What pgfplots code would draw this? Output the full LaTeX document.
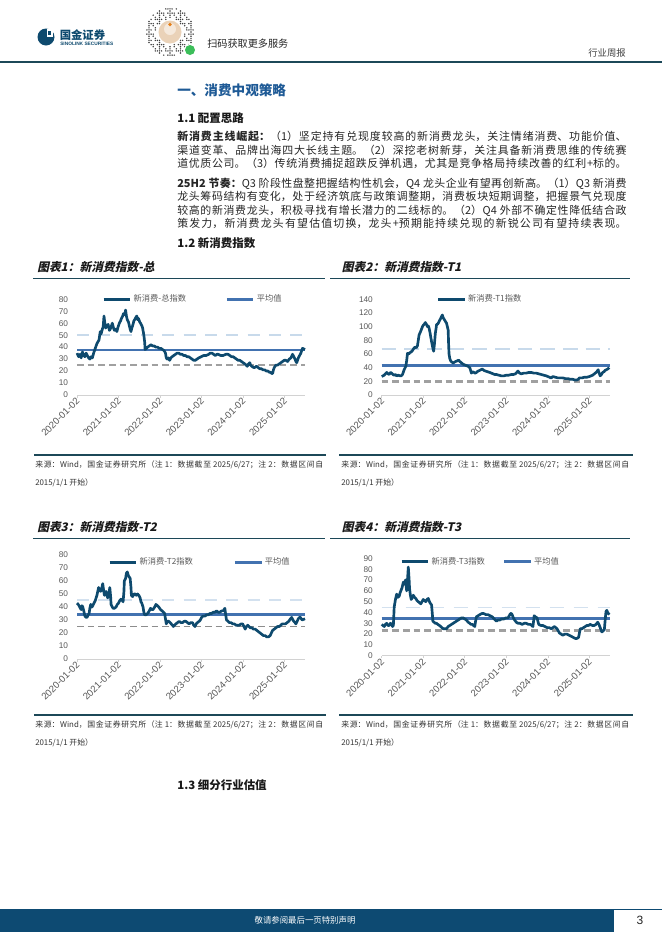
\documentclass[border=0pt]{standalone}
\usepackage{fontspec}
\setmainfont{Liberation Sans}
\newfontfamily\cjk{Noto Sans CJK SC}
\newfontfamily\cjksl[FakeSlant=0.22]{Noto Sans CJK SC}
\usepackage{pgfplots}
\pgfplotsset{compat=1.18}
\XeTeXlinebreaklocale "zh"
\XeTeXlinebreakskip=0pt plus 1.2pt

\definecolor{datacol}{RGB}{14,74,110}
\definecolor{meancol}{RGB}{66,114,176}
\definecolor{updash}{RGB}{200,218,235}
\definecolor{lowdash}{RGB}{160,160,160}
\definecolor{axisgray}{RGB}{210,210,210}
\definecolor{tickgray}{RGB}{89,89,89}
\definecolor{headline}{RGB}{28,72,88}
\definecolor{titleblue}{RGB}{30,90,150}
\definecolor{footblue}{RGB}{13,74,114}
\definecolor{beige}{RGB}{234,210,184}
\definecolor{wxgreen}{RGB}{60,190,90}

\pgfplotsset{
  ncstyle/.style={
    scale only axis, width=171pt,
    xmin=2020, xmax=2025.49, ymin=0,
    axis x line*=bottom, axis y line*=left,
    y axis line style={draw=none},
    x axis line style={draw=axisgray, line width=0.6pt},
    ytick style={draw=none},
    xtick={2020,2021,2022,2023,2024,2025},
    xticklabels={2020-01-02,2021-01-02,2022-01-02,2023-01-02,2024-01-02,2025-01-02},
    xtick style={draw=axisgray, line width=0.5pt},
    tick align=outside, major tick length=2pt,
    ticklabel style={font=\fontsize{6.2}{7}\selectfont, text=tickgray},
    xticklabel style={rotate=45, anchor=east, inner sep=0.5pt, yshift=-1.5pt,
      font=\fontsize{7.2}{8}\selectfont},
    yticklabel style={inner sep=0pt, xshift=-4.5pt},
    /pgf/number format/assume math mode=true,
    legend style={draw=none, fill=none, anchor=west,
      font=\cjk\fontsize{6.2}{7}\selectfont, text=tickgray,
      inner sep=0pt, nodes={inner sep=1.5pt}},
    legend columns=2,
    legend image code/.code={\draw[##1] (0pt,0pt) -- (20pt,0pt);},
    clip=false,
  }
}

\begin{document}
\begin{tikzpicture}
\begin{scope}[x=0.75pt,y=-0.75pt]
\fill[white] (0,0) rectangle (662,936);
\useasboundingbox (0,0) rectangle (662,936);

% header
\fill[datacol] (46,37) circle (8.5);
\fill[white] (46.5,29) rectangle (52.5,36.5);
\fill[datacol] (48,31) rectangle (51,34.5);
\node[anchor=west, inner sep=0pt, text=datacol, font=\cjk\bfseries\fontsize{8.5}{9}\selectfont] at (59.5,35) {国金证券};
\node[anchor=west, inner sep=0pt, text=datacol, font=\bfseries\fontsize{3.6}{4}\selectfont] at (60,43.5) {SINOLINK SECURITIES};
\foreach \i in {-12,...,12}{\foreach \j in {-12,...,12}{
  \pgfmathtruncatemacro\keep{((\i*\i+\j*\j)<=132)&&((\i*\i+\j*\j)>=38)&&(mod(\i*\i*3+\j*5+\i*\j*7+3000,5)<2)}
  \ifnum\keep=1 \fill[black!75] (170+\i*2.1,32+\j*2.1) circle (0.8);\fi}}
\fill[beige] (170,32) circle (11.5);
\fill[beige!50] (170,29) circle (6);
\fill[orange!60!brown] (170,24.5) circle (1.8);
\fill[white] (190,50) circle (6);
\fill[wxgreen] (190,50) circle (5);
\node[anchor=west, inner sep=0pt, font=\cjk\fontsize{7.6}{8}\selectfont, text=black!85] at (207,44) {扫码获取更多服务};
\node[anchor=east, inner sep=0pt, font=\cjk\fontsize{7}{8}\selectfont, text=black!75] at (626,53) {行业周报};
\draw[headline, line width=1.2pt] (0,62) -- (662,62);

% text
\node[anchor=west, inner sep=0pt, text=titleblue, font=\cjk\bfseries\fontsize{10.2}{12}\selectfont] at (177,90) {一、消费中观策略};
\node[anchor=west, inner sep=0pt, text=black!90, font=\cjk\bfseries\fontsize{8.6}{10}\selectfont] at (177,117.7) {1.1 配置思路};
\node[anchor=north west, inner sep=0pt, text width=337pt, align=justify, text=black!85, font=\cjk\fontsize{8.2}{10}\selectfont] at (177,131.3)
{{\bfseries 新消费主线崛起：}（1）坚定持有兑现度较高的新消费龙头，关注情绪消费、功能价值、\linebreak
渠道变革、品牌出海四大长线主题。（2）深挖老树新芽，关注具备新消费思维的传统赛\linebreak
道优质公司。（3）传统消费捕捉超跌反弹机遇，尤其是竞争格局持续改善的红利+标的。\linebreak};
\node[anchor=north west, inner sep=0pt, text width=337pt, align=justify, text=black!85, font=\cjk\fontsize{8.2}{10}\selectfont] at (177,177.9)
{{\bfseries 25H2 节奏：}Q3 阶段性盘整把握结构性机会，Q4 龙头企业有望再创新高。（1）Q3 新消费\linebreak
龙头筹码结构有变化，处于经济筑底与政策调整期，消费板块短期调整，把握景气兑现度\linebreak
较高的新消费龙头，积极寻找有增长潜力的二线标的。（2）Q4 外部不确定性降低结合政\linebreak
策发力，新消费龙头有望估值切换，龙头+预期能持续兑现的新锐公司有望持续表现。\linebreak};
\node[anchor=west, inner sep=0pt, text=black!90, font=\cjk\bfseries\fontsize{8.6}{10}\selectfont] at (177,243.3) {1.2 新消费指数};
\node[anchor=west, inner sep=0pt, text=black!90, font=\cjk\bfseries\fontsize{8.6}{10}\selectfont] at (177,785) {1.3 细分行业估值};

% chart titles and rules
\node[anchor=west, inner sep=0pt, text=black!90, font=\cjksl\bfseries\fontsize{8.8}{10}\selectfont] at (37,267) {图表1：新消费指数-总};
\node[anchor=west, inner sep=0pt, text=black!90, font=\cjksl\bfseries\fontsize{8.8}{10}\selectfont] at (341.7,267) {图表2：新消费指数-T1};
\node[anchor=west, inner sep=0pt, text=black!90, font=\cjksl\bfseries\fontsize{8.8}{10}\selectfont] at (37,527.3) {图表3：新消费指数-T2};
\node[anchor=west, inner sep=0pt, text=black!90, font=\cjksl\bfseries\fontsize{8.8}{10}\selectfont] at (341.7,527.3) {图表4：新消费指数-T3};
\draw[headline, line width=1pt] (33,278.5) -- (325,278.5);
\draw[headline, line width=1pt] (330,278.5) -- (630,278.5);
\draw[headline, line width=1pt] (33,538.3) -- (325,538.3);
\draw[headline, line width=1pt] (330,538.3) -- (630,538.3);
\draw[headline, line width=1pt] (34,455) -- (326,455);
\draw[headline, line width=1pt] (339,455) -- (633,455);
\draw[headline, line width=1pt] (34,715) -- (326,715);
\draw[headline, line width=1pt] (339,715) -- (633,715);

% sources
\foreach \xx/\yy in {35/460, 341/460, 35/720, 341/720}{
\node[anchor=north west, inner sep=0pt, text width=216pt, align=justify, text=black!80, font=\cjk\fontsize{5.9}{13.5}\selectfont] at (\xx,\yy)
{来源：Wind，国金证券研究所（注 1：数据截至 2025/6/27；注 2：数据区间自\linebreak 2015/1/1 开始）};
}

% footer
\fill[footblue] (0,909) rectangle (614,932);
\draw[footblue, line width=0.8pt] (614,909.4) -- (662,909.4);
\node[inner sep=0pt, text=white, font=\cjk\fontsize{6.3}{7}\selectfont] at (305,920.5) {敬请参阅最后一页特别声明};
\node[inner sep=0pt, text=black!85, font=\fontsize{9}{10}\selectfont] at (640,920) {3};
\end{scope}

% ---------- chart 1 ----------
\begin{axis}[ncstyle, at={(57.75pt,-296.25pt)}, anchor=south west, height=71.8pt,
  ymax=80, ytick={0,10,...,80},
  legend style={at={(0.11,1)}, /tikz/every even column/.append style={column sep=28pt}}]
\addplot[updash, line width=1.8pt, dash pattern=on 9pt off 7pt, forget plot] coordinates {(2020,50) (2025.49,50)};
\addplot[lowdash, line width=2pt, dash pattern=on 5pt off 3pt, forget plot] coordinates {(2020,25) (2025.49,25)};
\addplot[meancol, line width=2pt, forget plot] coordinates {(2020,37.5) (2025.49,37.5)};
\addplot[datacol, line width=2pt, line join=round] coordinates {
(2020.00,35) (2020.04,32) (2020.07,34) (2020.10,31) (2020.13,36) (2020.16,33) (2020.19,32) (2020.22,35)
(2020.25,33) (2020.28,31) (2020.31,30) (2020.34,32) (2020.37,31) (2020.40,35) (2020.43,38) (2020.46,41)
(2020.48,43) (2020.53,46) (2020.56,53) (2020.58,51) (2020.61,55) (2020.63,57) (2020.65,66) (2020.67,60)
(2020.69,56) (2020.72,58) (2020.75,59) (2020.78,54) (2020.80,55) (2020.83,58) (2020.85,60) (2020.88,56)
(2020.90,54) (2020.93,55) (2020.96,53) (2020.99,57) (2021.02,60) (2021.05,62) (2021.07,64) (2021.10,66)
(2021.12,68) (2021.15,67) (2021.17,71) (2021.19,66) (2021.21,63) (2021.24,61) (2021.26,58) (2021.28,55)
(2021.30,53) (2021.32,56) (2021.34,58) (2021.37,62) (2021.39,63) (2021.42,65) (2021.44,66) (2021.46,63)
(2021.48,64) (2021.51,61) (2021.53,60) (2021.56,58) (2021.58,56) (2021.60,52) (2021.61,50) (2021.63,44)
(2021.64,38) (2021.67,39) (2021.70,40) (2021.74,41) (2021.78,42) (2021.82,41) (2021.86,41) (2021.90,40)
(2021.94,40) (2021.98,39) (2022.02,39) (2022.06,38) (2022.10,37) (2022.13,35) (2022.15,31) (2022.17,30)
(2022.20,31) (2022.23,29) (2022.26,31) (2022.29,32) (2022.33,33) (2022.37,34) (2022.41,35) (2022.45,35)
(2022.49,34) (2022.53,34) (2022.57,33) (2022.61,33) (2022.65,32) (2022.69,32) (2022.73,31) (2022.77,30)
(2022.81,29) (2022.85,29) (2022.89,30) (2022.93,31) (2022.99,32) (2023.05,33) (2023.11,33) (2023.17,34)
(2023.21,35) (2023.25,35) (2023.29,34) (2023.33,33) (2023.37,34) (2023.40,34) (2023.46,33) (2023.52,33)
(2023.58,34) (2023.64,34) (2023.68,33) (2023.72,32) (2023.76,32) (2023.80,31) (2023.84,30) (2023.88,29)
(2023.92,29) (2023.96,28) (2024.00,27) (2024.04,26) (2024.07,25) (2024.10,24) (2024.13,26) (2024.16,27)
(2024.18,25) (2024.21,24) (2024.25,23) (2024.28,23) (2024.32,24) (2024.36,23) (2024.40,22) (2024.44,22)
(2024.48,21) (2024.52,21) (2024.56,20) (2024.60,20) (2024.63,19) (2024.66,19) (2024.69,18) (2024.71,18)
(2024.73,21) (2024.75,23) (2024.79,25) (2024.83,25) (2024.87,26) (2024.91,27) (2024.95,28) (2024.99,29)
(2025.03,29) (2025.07,28) (2025.11,30) (2025.15,31) (2025.19,34) (2025.22,32) (2025.25,30) (2025.27,28)
(2025.29,27) (2025.31,29) (2025.33,31) (2025.36,33) (2025.39,35) (2025.41,37) (2025.43,39) (2025.49,38)
};
\addlegendentry{新消费-总指数}
\addlegendimage{meancol, line width=2pt}
\addlegendentry{平均值}
\end{axis}

% ---------- chart 2 ----------
\begin{axis}[ncstyle, at={(286.3pt,-296.25pt)}, anchor=south west, height=71.8pt,
  ymax=140, ytick={0,20,...,140},
  legend style={at={(0.24,1)}}]
\addplot[updash, line width=1.8pt, dash pattern=on 11pt off 6pt, forget plot] coordinates {(2020,67) (2025.49,67)};
\addplot[lowdash, line width=2pt, dash pattern=on 5pt off 3pt, forget plot] coordinates {(2020,20) (2025.49,20)};
\addplot[meancol, line width=2pt, forget plot] coordinates {(2020,43) (2025.49,43)};
\addplot[datacol, line width=2pt, line join=round] coordinates {
(2020.00,27) (2020.03,28) (2020.06,29) (2020.09,31) (2020.12,33) (2020.15,31) (2020.18,30) (2020.21,33)
(2020.24,32) (2020.27,30) (2020.30,29) (2020.33,30) (2020.36,28) (2020.40,29) (2020.44,28) (2020.47,28)
(2020.50,30) (2020.54,37) (2020.58,42) (2020.60,50) (2020.62,61) (2020.65,60) (2020.68,62) (2020.71,63)
(2020.74,65) (2020.77,68) (2020.80,70) (2020.83,69) (2020.86,72) (2020.88,80) (2020.90,88) (2020.93,92)
(2020.95,95) (2020.98,100) (2021.00,102) (2021.03,104) (2021.05,106) (2021.08,103) (2021.10,100) (2021.12,101)
(2021.14,98) (2021.16,92) (2021.18,85) (2021.20,78) (2021.22,72) (2021.24,66) (2021.25,64) (2021.27,75)
(2021.29,90) (2021.31,98) (2021.32,103) (2021.35,104) (2021.37,106) (2021.40,110) (2021.42,112) (2021.44,115)
(2021.46,117) (2021.48,113) (2021.51,110) (2021.53,108) (2021.56,105) (2021.58,100) (2021.60,95) (2021.61,75)
(2021.62,60) (2021.64,53) (2021.66,50) (2021.69,48) (2021.72,47) (2021.75,48) (2021.78,49) (2021.82,50)
(2021.85,51) (2021.88,49) (2021.92,47) (2021.96,45) (2022.00,44) (2022.04,43) (2022.08,42) (2022.10,41)
(2022.12,40) (2022.14,36) (2022.16,32) (2022.19,34) (2022.22,33) (2022.25,32) (2022.28,33) (2022.32,35)
(2022.36,36) (2022.39,37) (2022.42,38) (2022.46,36) (2022.50,35) (2022.55,34) (2022.60,33) (2022.64,32)
(2022.68,31) (2022.72,30) (2022.76,30) (2022.82,29) (2022.88,28) (2022.94,28) (2023.00,29) (2023.06,29)
(2023.12,30) (2023.17,30) (2023.22,31) (2023.25,33) (2023.28,35) (2023.32,32) (2023.36,31) (2023.42,32)
(2023.48,32) (2023.54,33) (2023.60,33) (2023.66,32) (2023.72,32) (2023.78,31) (2023.84,30) (2023.90,29)
(2023.96,28) (2024.00,27) (2024.04,26) (2024.08,25) (2024.12,27) (2024.18,26) (2024.24,25) (2024.30,25)
(2024.36,25) (2024.42,24) (2024.48,24) (2024.54,23) (2024.60,23) (2024.65,22) (2024.70,22) (2024.73,23)
(2024.76,25) (2024.82,25) (2024.88,26) (2024.94,26) (2025.00,27) (2025.04,28) (2025.08,29) (2025.12,31)
(2025.16,33) (2025.19,35) (2025.21,37) (2025.23,33) (2025.26,28) (2025.29,30) (2025.32,33) (2025.35,34)
(2025.38,36) (2025.41,37) (2025.44,38) (2025.48,40)
};
\addlegendentry{新消费-T1指数}
\end{axis}

% ---------- chart 3 ----------
\begin{axis}[ncstyle, at={(57.75pt,-494.25pt)}, anchor=south west, height=78pt,
  ymax=80, ytick={0,10,...,80},
  legend style={at={(0.136,0.93)}, /tikz/every even column/.append style={column sep=29pt}}]
\addplot[updash!80, line width=1pt, dash pattern=on 9pt off 7pt, forget plot] coordinates {(2020,45.4) (2025.49,45.4)};
\addplot[lowdash!120, line width=1.3pt, dash pattern=on 5pt off 3pt, forget plot] coordinates {(2020,25) (2025.49,25)};
\addplot[meancol, line width=2pt, forget plot] coordinates {(2020,34.4) (2025.49,34.4)};
\addplot[datacol, line width=2pt, line join=round] coordinates {
(2020.00,43) (2020.03,42) (2020.05,41) (2020.08,39) (2020.10,38) (2020.12,41) (2020.14,40) (2020.17,36)
(2020.19,33) (2020.22,32) (2020.24,32) (2020.27,34) (2020.29,35) (2020.31,39) (2020.33,42) (2020.36,40)
(2020.38,41) (2020.41,43) (2020.44,45) (2020.46,47) (2020.48,49) (2020.50,52) (2020.52,55) (2020.55,53)
(2020.57,52) (2020.60,55) (2020.62,58) (2020.64,53) (2020.66,49) (2020.68,51) (2020.70,52) (2020.72,49)
(2020.74,47) (2020.77,51) (2020.79,55) (2020.81,48) (2020.82,42) (2020.85,40) (2020.87,39) (2020.90,39)
(2020.94,40) (2020.97,42) (2021.00,43) (2021.03,45) (2021.06,46) (2021.09,45) (2021.11,44) (2021.13,52)
(2021.14,60) (2021.17,62) (2021.19,66) (2021.21,67) (2021.24,64) (2021.26,63) (2021.28,62) (2021.30,55)
(2021.31,49) (2021.34,48) (2021.37,50) (2021.40,50) (2021.43,49) (2021.46,50) (2021.49,49) (2021.52,47)
(2021.54,44) (2021.56,43) (2021.59,40) (2021.61,36) (2021.63,34) (2021.66,34) (2021.70,35) (2021.74,37)
(2021.77,39) (2021.80,38) (2021.83,38) (2021.87,40) (2021.90,42) (2021.94,41) (2021.97,40) (2022.01,38)
(2022.05,37) (2022.08,36) (2022.11,35) (2022.13,31) (2022.15,27) (2022.18,29) (2022.21,29) (2022.24,28)
(2022.27,27) (2022.30,26) (2022.32,25) (2022.35,26) (2022.38,27) (2022.42,28) (2022.46,29) (2022.50,28)
(2022.54,28) (2022.58,29) (2022.62,29) (2022.66,28) (2022.70,27) (2022.74,28) (2022.78,28) (2022.81,26)
(2022.84,25) (2022.87,27) (2022.90,28) (2022.94,29) (2022.97,30) (2023.00,32) (2023.03,33) (2023.08,33)
(2023.12,34) (2023.16,34) (2023.20,35) (2023.24,35) (2023.28,36) (2023.32,36) (2023.36,37) (2023.40,36)
(2023.44,36) (2023.48,37) (2023.52,37) (2023.54,38) (2023.56,39) (2023.58,34) (2023.60,30) (2023.64,29)
(2023.67,28) (2023.71,28) (2023.75,27) (2023.79,27) (2023.83,26) (2023.87,26) (2023.91,26) (2023.95,27)
(2023.99,27) (2024.02,25) (2024.05,23) (2024.08,25) (2024.11,26) (2024.14,25) (2024.17,24) (2024.21,24)
(2024.25,23) (2024.29,23) (2024.33,22) (2024.37,21) (2024.41,20) (2024.45,19) (2024.49,18) (2024.53,18)
(2024.57,17) (2024.61,17) (2024.65,18) (2024.68,20) (2024.71,22) (2024.75,23) (2024.79,24) (2024.83,25)
(2024.87,25) (2024.91,26) (2024.94,27) (2024.98,27) (2025.02,27) (2025.06,28) (2025.10,29) (2025.14,31)
(2025.17,32) (2025.20,30) (2025.22,29) (2025.25,28) (2025.27,27) (2025.30,29) (2025.33,31) (2025.36,32)
(2025.38,32) (2025.40,31) (2025.42,30) (2025.49,31)
};
\addlegendentry{新消费-T2指数}
\addlegendimage{meancol, line width=2pt}
\addlegendentry{平均值}
\end{axis}

% ---------- chart 4 ----------
\begin{axis}[ncstyle, at={(286.3pt,-491.8pt)}, anchor=south west, height=73pt,
  ymax=90, ytick={0,10,...,90},
  legend style={at={(0.08,0.965)}, /tikz/every even column/.append style={column sep=12pt}}]
\addplot[updash!80, line width=1pt, dash pattern=on 11pt off 7pt, forget plot] coordinates {(2020,44.4) (2025.49,44.4)};
\addplot[lowdash, line width=2pt, dash pattern=on 5pt off 3pt, forget plot] coordinates {(2020,23.2) (2025.49,23.2)};
\addplot[meancol, line width=2pt, forget plot] coordinates {(2020,34.5) (2025.49,34.5)};
\addplot[datacol, line width=2pt, line join=round] coordinates {
(2020.00,29) (2020.03,28) (2020.06,27) (2020.09,29) (2020.12,30) (2020.15,28) (2020.18,28) (2020.21,30)
(2020.24,29) (2020.26,27) (2020.28,28) (2020.30,45) (2020.33,52) (2020.36,57) (2020.39,54) (2020.42,55)
(2020.44,58) (2020.46,60) (2020.49,63) (2020.52,68) (2020.55,66) (2020.57,70) (2020.59,64) (2020.60,60)
(2020.62,70) (2020.64,82) (2020.66,70) (2020.67,62) (2020.69,56) (2020.71,52) (2020.74,54) (2020.76,56)
(2020.79,54) (2020.82,53) (2020.85,51) (2020.88,50) (2020.91,49) (2020.94,48) (2020.97,50) (2021.00,52)
(2021.03,51) (2021.06,50) (2021.09,52) (2021.12,53) (2021.14,51) (2021.16,49) (2021.18,48) (2021.20,47)
(2021.22,38) (2021.23,32) (2021.26,31) (2021.29,30) (2021.32,30) (2021.35,29) (2021.39,28) (2021.42,27)
(2021.45,26) (2021.48,25) (2021.52,25) (2021.56,25) (2021.60,27) (2021.64,28) (2021.68,29) (2021.72,30)
(2021.76,31) (2021.80,32) (2021.84,33) (2021.88,34) (2021.92,35) (2021.96,35) (2022.00,34) (2022.04,33)
(2022.08,31) (2022.12,30) (2022.15,29) (2022.18,29) (2022.21,28) (2022.24,27) (2022.26,32) (2022.28,36)
(2022.32,37) (2022.36,38) (2022.41,39) (2022.46,39) (2022.51,38) (2022.56,38) (2022.61,37) (2022.66,36)
(2022.71,34) (2022.76,32) (2022.80,33) (2022.84,33) (2022.89,34) (2022.94,34) (2022.99,35) (2023.04,35)
(2023.07,37) (2023.10,39) (2023.12,39) (2023.14,38) (2023.17,35) (2023.20,33) (2023.24,31) (2023.28,30)
(2023.33,30) (2023.38,29) (2023.43,30) (2023.48,30) (2023.53,29) (2023.58,29) (2023.61,28) (2023.64,27)
(2023.66,33) (2023.67,37) (2023.70,36) (2023.74,35) (2023.76,32) (2023.78,29) (2023.83,28) (2023.88,28)
(2023.93,27) (2023.98,26) (2024.03,26) (2024.08,25) (2024.12,26) (2024.16,27) (2024.19,26) (2024.22,25)
(2024.25,23) (2024.28,21) (2024.32,20) (2024.36,19) (2024.41,20) (2024.46,20) (2024.51,19) (2024.56,18)
(2024.61,17) (2024.66,16) (2024.70,16) (2024.74,17) (2024.76,21) (2024.78,25) (2024.82,25) (2024.86,26)
(2024.90,27) (2024.94,28) (2024.98,28) (2025.02,29) (2025.07,28) (2025.12,28) (2025.16,29) (2025.20,31)
(2025.23,29) (2025.26,26) (2025.28,24) (2025.30,22) (2025.33,23) (2025.36,24) (2025.38,33) (2025.40,41)
(2025.42,42) (2025.44,40) (2025.46,39) (2025.48,38)
};
\addlegendentry{新消费-T3指数}
\addlegendimage{meancol, line width=2pt}
\addlegendentry{平均值}
\end{axis}
\end{tikzpicture}
\end{document}
